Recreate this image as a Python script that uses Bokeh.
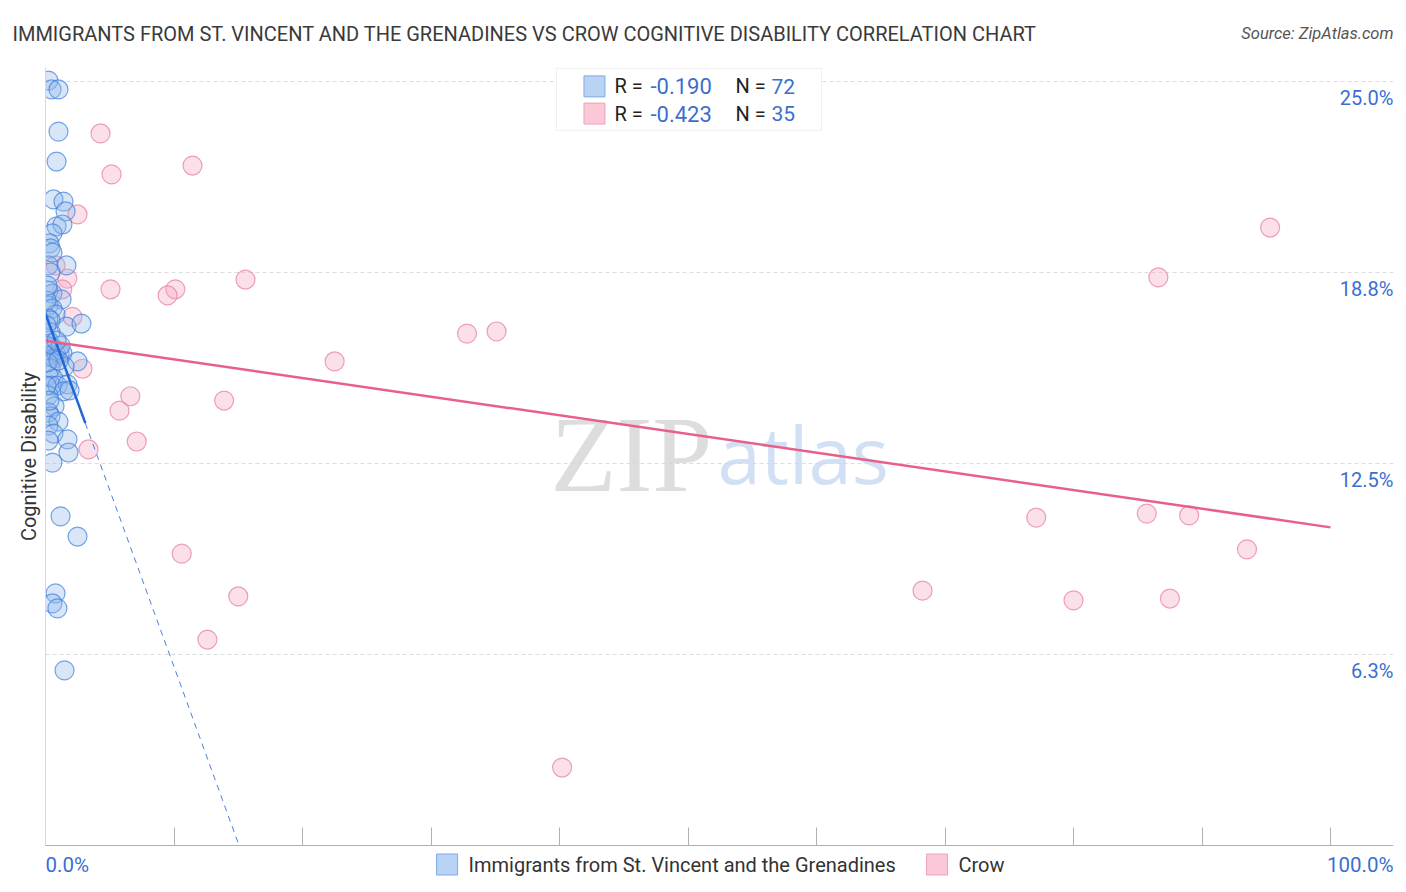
import math
from bokeh.plotting import figure
from bokeh.models import FixedTicker, Range1d, Label, BoxAnnotation
from bokeh.core.properties import value
from bokeh.embed import file_html
from bokeh.resources import INLINE

TITLE = "IMMIGRANTS FROM ST. VINCENT AND THE GRENADINES VS CROW COGNITIVE DISABILITY CORRELATION CHART"
SOURCE = "Source: ZipAtlas.com"
Y_LABEL = "Cognitive Disability"
SERIES = ["Immigrants from St. Vincent and the Grenadines", "Crow"]
R_VALUES = ["-0.190", "-0.423"]
N_VALUES = ["72", "35"]

blue_x = [0.23, 0.47, 1.01, 1.01, 0.86, 0.62, 1.40, 1.56, 0.86, 1.32,
          0.54, 0.31, 0.39, 0.23, 1.63, 0.39, 0.23, 0.54, 1.25, 0.23,
          0.54, 0.78, 0.23, 1.63, 2.80, 0.39, 0.23, 0.54, 0.78, 1.09,
          0.23, 1.32, 0.70, 2.49, 1.48, 0.39, 0.23, 0.62, 0.47, 0.93,
          1.71, 1.40, 1.87, 0.23, 0.70, 0.23, 0.39, 1.01, 0.23, 0.62,
          1.71, 0.23, 1.79, 0.54, 1.17, 2.49, 0.78, 0.54, 0.93, 1.48,
          0.08, 0.16, 0.39, 0.08, 1.17, 0.16, 1.01, 0.08, 0.31, 0.54,
          0.08, 0.86]
blue_y = [25.03, 24.74, 24.74, 23.36, 22.38, 21.14, 21.07, 20.75, 20.26, 20.32,
          20.03, 19.70, 19.54, 18.98, 18.98, 18.75, 18.16, 18.06, 17.87, 17.67,
          17.57, 17.38, 17.24, 16.98, 17.08, 16.79, 16.52, 16.30, 16.13, 16.10,
          16.03, 16.10, 15.94, 15.84, 15.67, 15.61, 15.38, 15.28, 15.05, 15.05,
          15.09, 14.86, 14.89, 14.73, 14.37, 14.17, 14.04, 13.87, 13.74, 13.48,
          13.29, 13.25, 12.86, 12.53, 10.77, 10.11, 8.25, 7.92, 7.76, 5.73,
          17.83, 18.32, 17.18, 16.36, 16.36, 15.81, 15.87, 15.05, 14.56, 19.40,
          17.02, 16.52]

pink_x = [4.28, 5.14, 11.44, 2.49, 0.78, 1.70, 1.30, 5.06, 10.10, 9.50,
          15.56, 2.10, 32.80, 35.10, 22.50, 2.88, 6.60, 5.76, 13.90, 7.10,
          3.35, 10.60, 15.00, 12.60, 40.20, 68.25, 77.10, 80.00, 85.70, 87.50,
          89.00, 93.50, 86.60, 95.30, 0.86]
pink_y = [23.30, 21.96, 22.25, 20.65, 18.98, 18.55, 18.20, 18.20, 18.20, 18.00,
          18.52, 17.30, 16.75, 16.82, 15.84, 15.60, 14.70, 14.23, 14.56, 13.22,
          12.96, 9.55, 8.15, 6.74, 2.55, 8.34, 10.73, 8.02, 10.86, 8.08,
          10.80, 9.69, 18.59, 20.22, 16.03]

# trend lines (intercept, slope)
blue_fit = (17.40, -1.155)
blue_solid_end = 3.1
pink_fit = (16.52, -0.0611)

x_ticks = [0, 10, 20, 30, 40, 50, 60, 70, 80, 90, 100]
y_ticks = [6.25, 12.5, 18.75, 25.0]
y_tick_labels = ["6.3%", "12.5%", "18.8%", "25.0%"]
x_end_labels = ["0.0%", "100.0%"]

# ---- layout constants (screen geometry) ----
LEFT_BORDER = 10
X_PX = 12.85           # pixels per percent, x
PX = 30.56             # pixels per percent, y
X_END = 104.9          # right edge of plot area
X_START = -(45 - LEFT_BORDER) / X_PX
Y_AXIS_TOP = 25.46     # top of the drawn plot area
FRAME_H = 880
Y_TOP = 845 / PX
Y_BOTTOM = -(FRAME_H - 845) / PX
FRAME_W = 1393 - LEFT_BORDER

BLUE_TXT = "#3a6fd0"
DARK = "#333333"
FONT = "Roboto"

p = figure(frame_width=FRAME_W, frame_height=FRAME_H, output_backend="svg", toolbar_location=None,
           x_range=Range1d(X_START, X_END), y_range=Range1d(Y_BOTTOM, Y_TOP),
           min_border_left=LEFT_BORDER, min_border_top=0, min_border_right=5, min_border_bottom=0)
p.outline_line_color = None
p.background_fill_color = "white"

# grid
p.xgrid.visible = False
p.ygrid.ticker = FixedTicker(ticks=y_ticks)
p.ygrid.grid_line_color = "#dddddd"
p.ygrid.grid_line_dash = "4 3"
if "cross_bounds" in p.ygrid[0].properties():
    p.ygrid.cross_bounds = (0, X_END)

# stats box background (under the glyphs, over the grid)
p.add_layout(BoxAnnotation(left=39.77, right=60.39, top=25.43, bottom=23.40, level="underlay",
                           fill_color="white", fill_alpha=1.0, line_color="#cccccc", line_width=1))

# x axis, fixed at y = 0 inside the frame, ticks pointing up
p.xaxis.fixed_location = 0
p.xaxis.bounds = (0, X_END)
p.xaxis.ticker = FixedTicker(ticks=[], minor_ticks=x_ticks)
p.xaxis.minor_tick_in = 18
p.xaxis.minor_tick_out = 0
p.xaxis.minor_tick_line_color = "#b0b0b0"
p.xaxis.major_tick_line_color = None
p.xaxis.axis_line_color = "#b0b0b0"

# y axis, fixed at x = 0
p.yaxis.fixed_location = 0
p.yaxis.ticker = FixedTicker(ticks=[])
p.yaxis.bounds = (0, Y_AXIS_TOP)
p.yaxis.minor_tick_line_color = None
p.yaxis.major_tick_line_color = None
p.yaxis.axis_line_color = "#b0b0b0"

# watermark
p.text(x=[51.9], y=[12.8], text=["ZIP"], text_font=value("Liberation Serif"),
       text_font_size="108px", text_color="#d5d5d5", text_align="right",
       text_baseline="alphabetic", text_alpha=0.8)
p.text(x=[52.3], y=[12.8], text=["atlas"], text_font=value("Open Sans"),
       text_font_size="78px", text_color="#c5d8f2", text_align="left",
       text_baseline="alphabetic", text_alpha=0.8)

# points
p.scatter(pink_x, pink_y, size=19, fill_color="#f4a6bf", fill_alpha=0.35,
          line_color="#e68aa8", line_alpha=0.8, line_width=1.2)
p.scatter(blue_x, blue_y, size=19, fill_color="#8fb6ec", fill_alpha=0.35,
          line_color="#3f7fdc", line_alpha=0.7, line_width=1.2)

# trend lines
b0, b1 = blue_fit
blue_zero = -b0 / b1
p.line([0, blue_solid_end], [b0, b0 + b1 * blue_solid_end], line_color="#1f66d6", line_width=2.5)
p.line([blue_solid_end, blue_zero], [b0 + b1 * blue_solid_end, 0], line_color="#4a80d8",
       line_width=1, line_dash="6 5")
c0, c1 = pink_fit
p.line([0, 100], [c0, c0 + c1 * 100], line_color="#e8608a", line_width=2.5)

# mask: the plot area is clipped at the y axis
p.add_layout(BoxAnnotation(left=X_START, right=0, bottom=0, top=Y_TOP,
                           fill_color="white", fill_alpha=1.0, line_color=None))

p.add_layout(Label(x=0, y=(845 - 456) / PX, text=Y_LABEL, angle=math.pi / 2,
                   text_align="center", text_baseline="middle", x_offset=-17,
                   text_font=FONT, text_font_size="20px", text_color=DARK))

# y tick labels inside the plot, right side
for tv, tl in zip(y_ticks, y_tick_labels):
    p.add_layout(Label(x=X_END, y=tv, text=tl, text_align="right", text_baseline="middle",
                       y_offset=-16, text_font=FONT, text_font_size="20px", text_color=BLUE_TXT))

# x end labels
p.add_layout(Label(x=0, y=0, text=x_end_labels[0], text_align="left", text_baseline="middle",
                   y_offset=-19, text_font=FONT, text_font_size="20.5px", text_color=BLUE_TXT))
p.add_layout(Label(x=X_END, y=0, text=x_end_labels[1], text_align="right", text_baseline="middle",
                   y_offset=-19, text_font=FONT, text_font_size="20.5px", text_color=BLUE_TXT))

# title and source
title_y = (845 - 33) / PX
p.add_layout(Label(x=0, y=title_y, text=TITLE, text_align="left", text_baseline="middle",
                   x_offset=-33, text_font=FONT, text_font_size="20px", text_color="#3a3a3a"))
p.add_layout(Label(x=X_END, y=title_y, text=SOURCE, text_align="right", text_baseline="middle",
                   text_font=FONT, text_font_size="16.5px", text_font_style="italic",
                   text_color="#555555"))

# stats box contents
rows_y = [24.84, 23.95]
sq_fill = ["#b9d3f5", "#fbc8d7"]
sq_line = ["#7faaea", "#eea3bc"]
p.scatter([42.72, 42.72], rows_y, marker="square", size=21, fill_color=sq_fill,
          line_color=sq_line, line_width=1)
for i in range(2):
    p.add_layout(Label(x=44.28, y=rows_y[i], text="R = ", text_baseline="middle",
                       text_font=FONT, text_font_size="20px", text_color="#222222"))
    p.add_layout(Label(x=47.08, y=rows_y[i], text=R_VALUES[i], text_baseline="middle",
                       text_font=FONT, text_font_size="22px", text_color=BLUE_TXT))
    p.add_layout(Label(x=53.70, y=rows_y[i], text="N = ", text_baseline="middle",
                       text_font=FONT, text_font_size="20px", text_color="#222222"))
    p.add_layout(Label(x=56.50, y=rows_y[i], text=N_VALUES[i], text_baseline="middle",
                       text_font=FONT, text_font_size="21px", text_color=BLUE_TXT))

# bottom legend (inside the frame, below the x axis)
legend_y = -(864 - 845) / PX
legend_sq_x = [31.25, 69.38]
legend_txt_x = [32.92, 71.05]
p.scatter(legend_sq_x, [legend_y, legend_y], marker="square", size=21, fill_color=sq_fill,
          line_color=sq_line, line_width=1)
for i in range(2):
    p.add_layout(Label(x=legend_txt_x[i], y=legend_y, text=SERIES[i], text_baseline="middle",
                       text_font=FONT, text_font_size="20px", text_color=DARK))

open("out.html", "w").write(file_html(p, INLINE))
